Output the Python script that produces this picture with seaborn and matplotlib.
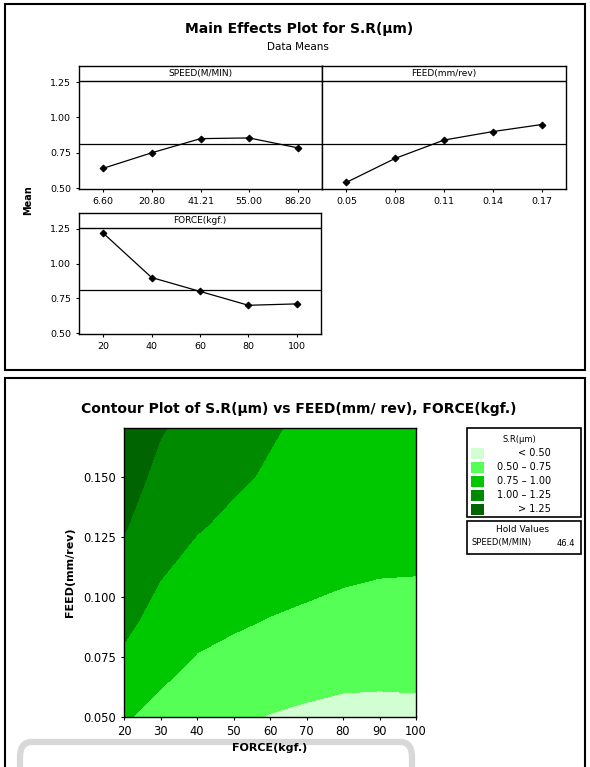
import numpy as np
import pandas as pd
import matplotlib
matplotlib.use("Agg")
import matplotlib.pyplot as plt
import matplotlib.patches as mpatches
import matplotlib.transforms as mtransforms
import seaborn as sns

# Main effects (data means)
speed_levels = ["6.60", "20.80", "41.21", "55.00", "86.20"]
speed_means = [0.64, 0.75, 0.85, 0.855, 0.785]
feed_levels = ["0.05", "0.08", "0.11", "0.14", "0.17"]
feed_means = [0.54, 0.71, 0.84, 0.90, 0.95]
force_levels = ["20", "40", "60", "80", "100"]
force_means = [1.22, 0.90, 0.80, 0.70, 0.71]
grand_mean = 0.81

# Contour surface, S.R at grid points
force_grid = [20, 30, 40, 50, 60, 70, 80, 90, 100]
feed_grid = [0.05, 0.07, 0.09, 0.11, 0.13, 0.15, 0.17]
sr_by_force = [
    [0.77, 0.93, 1.06, 1.17, 1.27, 1.35, 1.42],
    [0.68, 0.80, 0.91, 1.015, 1.11, 1.19, 1.265],
    [0.60, 0.715, 0.82, 0.92, 1.02, 1.10, 1.17],
    [0.55, 0.665, 0.78, 0.865, 0.955, 1.035, 1.10],
    [0.49, 0.62, 0.74, 0.84, 0.92, 0.975, 1.02],
    [0.46, 0.59, 0.71, 0.81, 0.88, 0.93, 0.96],
    [0.44, 0.56, 0.68, 0.78, 0.85, 0.895, 0.92],
    [0.44, 0.55, 0.665, 0.76, 0.83, 0.87, 0.89],
    [0.445, 0.555, 0.665, 0.755, 0.82, 0.86, 0.88],
]
sr_levels = [0.0, 0.50, 0.75, 1.00, 1.25, 2.0]
sr_labels = ["< 0.50", "0.50 \u2013 0.75", "0.75 \u2013 1.00", "1.00 \u2013 1.25", "> 1.25"]
sr_colors = ["#d2ffd2", "#55ff55", "#00c800", "#008a00", "#006400"]
hold_speed = 46.4

sns.set_theme(style="ticks")
plt.rcParams["font.family"] = ["DejaVu Sans"]
plt.rcParams["text.color"] = "black"
plt.rcParams["axes.labelcolor"] = "black"
plt.rcParams["xtick.color"] = "black"
plt.rcParams["ytick.color"] = "black"

W, H = 590, 767
fig = plt.figure(figsize=(W / 100, H / 100), dpi=100)
fig.patch.set_facecolor("white")


def px_axes(x0, y0, x1, y1):
    return fig.add_axes([x0 / W, 1 - y1 / H, (x1 - x0) / W, (y1 - y0) / H])


def px_text(x, y, s, **kw):
    fig.text(x / W, 1 - y / H, s, **kw)


def px_rect(x0, y0, x1, y1, **kw):
    fig.add_artist(mpatches.Rectangle((x0 / W, 1 - y1 / H), (x1 - x0) / W, (y1 - y0) / H,
                                      transform=fig.transFigure, fill=False, **kw))


# outer frames
px_rect(5, 4, 585, 370, edgecolor="black", linewidth=1.5)
px_rect(5, 378, 585, 790, edgecolor="black", linewidth=1.5)
# faint grey frame showing through at the bottom of the page
fig.add_artist(mpatches.FancyBboxPatch((20 / W, 1 - 800 / H), 392 / W, 58 / H,
                                       boxstyle="round,pad=0,rounding_size=0.02",
                                       transform=fig.transFigure, fill=False,
                                       edgecolor="#d8d8d8", linewidth=4.5, zorder=0))

# ---- Main effects plot ----
px_text(299, 29, "Main Effects Plot for S.R(\u00b5m)", ha="center", va="center",
        fontsize=10, fontweight="bold")
px_text(298, 47, "Data Means", ha="center", va="center", fontsize=7.5)
px_text(28, 200, "Mean", ha="center", va="center", rotation=90, fontsize=7,
        fontweight="bold")

panels = [
    ((79, 66, 322, 189), speed_levels, speed_means, "SPEED(M/MIN)", True),
    ((322, 66, 566, 189), feed_levels, feed_means, "FEED(mm/rev)", False),
    ((79, 213, 321, 334), force_levels, force_means, "FORCE(kgf.)", True),
]
for rect, levels, means, name, show_y in panels:
    ax = px_axes(*rect)
    df = pd.DataFrame({"level": levels, "mean": means})
    sns.pointplot(data=df, x="level", y="mean", color="black", markers="D",
                  markersize=3.5, linewidth=0.9, ax=ax)
    ax.axhline(grand_mean, color="black", linewidth=0.9)
    ax.axhline(1.26, color="black", linewidth=1.0)
    ax.set_xlim(-0.5, len(levels) - 0.5)
    ax.set_ylim(0.493, 1.365)
    ax.set_yticks([0.50, 0.75, 1.00, 1.25])
    ax.set_xlabel("")
    ax.set_ylabel("")
    trans = mtransforms.blended_transform_factory(ax.transAxes, ax.transData)
    ax.text(0.5, 1.312, name, transform=trans, ha="center", va="center", fontsize=6.5)
    ax.tick_params(labelsize=6.8, length=2.5, width=0.8, pad=3)
    if show_y:
        ax.set_yticklabels(["0.50", "0.75", "1.00", "1.25"])
    else:
        ax.tick_params(axis="y", left=False, labelleft=False)
    for s in ax.spines.values():
        s.set_visible(True)
        s.set_linewidth(1.0)
        s.set_color("black")

# ---- Contour plot ----
px_text(299, 409, "Contour Plot of S.R(\u00b5m) vs FEED(mm/ rev), FORCE(kgf.)",
        ha="center", va="center", fontsize=10, fontweight="bold")

cax = px_axes(124, 428, 416, 717)
Z = np.array(sr_by_force).T
cax.contourf(force_grid, feed_grid, Z, levels=sr_levels, colors=sr_colors)
cax.set_xlim(20, 100)
cax.set_ylim(0.05, 0.1705)
cax.set_xticks([20, 30, 40, 50, 60, 70, 80, 90, 100])
cax.set_yticks([0.050, 0.075, 0.100, 0.125, 0.150])
cax.set_yticklabels(["0.050", "0.075", "0.100", "0.125", "0.150"])
cax.tick_params(labelsize=8.3, length=2.5, width=0.8, pad=3)
cax.set_xlabel("FORCE(kgf.)", fontsize=8, fontweight="bold", labelpad=4)
cax.set_ylabel("FEED(mm/rev)", fontsize=8, fontweight="bold", labelpad=6)
for s in cax.spines.values():
    s.set_visible(True)
    s.set_linewidth(1.0)
    s.set_color("black")

# legend box
px_rect(467, 428, 581, 517, edgecolor="black", linewidth=1.2)
px_text(519, 440, "S.R(\u00b5m)", ha="center", va="center", fontsize=6)
row_y = [453, 467, 481, 495, 509]
for yy, col, lab in zip(row_y, sr_colors, sr_labels):
    fig.add_artist(mpatches.Rectangle((471 / W, 1 - (yy + 5.5) / H), 13 / W, 11 / H,
                                      transform=fig.transFigure, facecolor=col,
                                      edgecolor="none"))
    px_text(551, yy, lab, ha="right", va="center", fontsize=7)

px_rect(467, 521, 581, 554, edgecolor="black", linewidth=1.2)
px_text(522, 530, "Hold Values", ha="center", va="center", fontsize=6.5)
px_text(471, 543, "SPEED(M/MIN)", ha="left", va="center", fontsize=6)
px_text(575, 543, f"{hold_speed}", ha="right", va="center", fontsize=6)

fig.savefig("out.png", dpi=100, facecolor="white")
